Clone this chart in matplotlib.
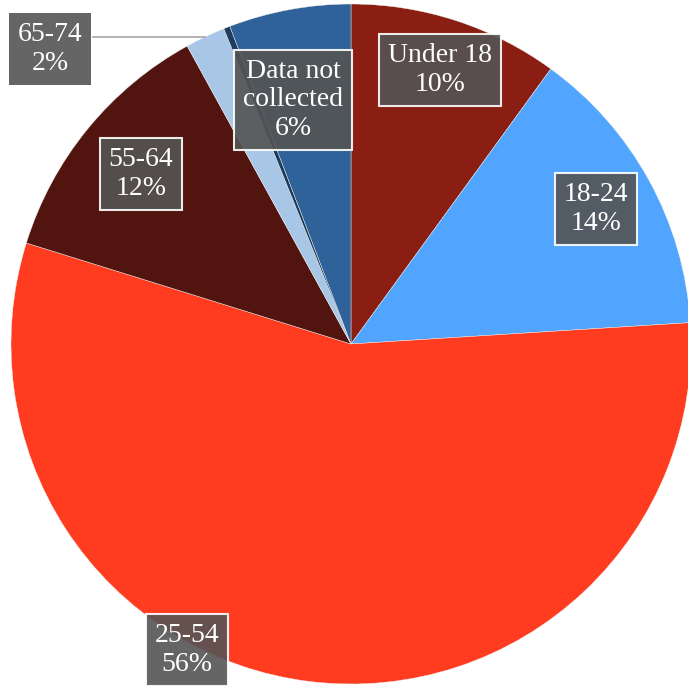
import matplotlib
matplotlib.use("Agg")
import matplotlib.pyplot as plt
import numpy as np

# Age breakdown (clockwise from 12 o'clock)
categories = ['Under 18', '18-24', '25-54', '55-64', '65-74', '75+', 'Data not\ncollected']
shares = [10.0, 14.0, 55.8, 12.2, 1.9, 0.3, 5.8]
colors = ['#8B1E12', '#52A5FF', '#FF3C20', '#52140E', '#A8C6E6', '#1E3B5E', '#2F6299']
show_label = [True, True, True, True, True, False, True]

# label box centres in pixels of the 688x687 figure (None = no label)
label_px = [(440, 70), (596, 209), (187, 650), (141, 174), (50, 49), None, (293, 100)]

W, H = 688, 687
cx, cy, R = 351, 344, 340  # pie centre and radius in pixels

fig = plt.figure(figsize=(W / 100, H / 100), dpi=100)
ax = fig.add_axes([0, 0, 1, 1])

wedges, _ = ax.pie(shares, colors=colors, startangle=90, counterclock=False,
                   radius=1, wedgeprops=dict(edgecolor='#F2F2F2', linewidth=0.3))

ax.set_aspect('auto')
ax.set_xlim(-cx / R, (W - cx) / R)
ax.set_ylim((cy - H) / R, cy / R)
ax.axis('off')

total = sum(shares)
for i, (cat, val) in enumerate(zip(categories, shares)):
    if not show_label[i]:
        continue
    px, py = label_px[i]
    txt = f'{cat}\n{val / total * 100:.0f}%'
    edge = 'none' if cat == '65-74' else 'white'
    fig.text(px / W, 1 - py / H, txt, ha='center', va='center', color='white',
             fontsize=20, family='Liberation Serif', linespacing=1.2,
             bbox=dict(boxstyle='square,pad=0.32', facecolor='#545454', alpha=0.9,
                       edgecolor=edge, linewidth=1.5))

# leader line for the small 65-74 slice
i = categories.index('65-74')
w = wedges[i]
mid = np.deg2rad((w.theta1 + w.theta2) / 2)
ex, ey = np.cos(mid), np.sin(mid)
bx = (label_px[i][0] + 43 - cx) / R
ax.plot([bx, ex], [ey, ey], color='#A6A6A6', linewidth=1.2)

plt.savefig('out.png', dpi=100)
